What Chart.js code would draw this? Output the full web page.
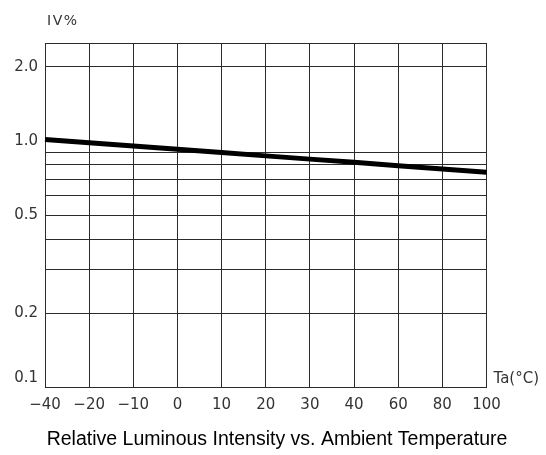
<!DOCTYPE html>
<html>
<head>
<meta charset="utf-8">
<script src="https://cdn.jsdelivr.net/npm/chart.js@4.4.0/dist/chart.umd.min.js"></script>
<style>
  html, body { margin: 0; padding: 0; background: #fff; }
  #wrap { width: 546px; height: 455px; }
</style>
</head>
<body>
<div id="wrap"><canvas id="c" width="546" height="455"></canvas></div>
<script>
// Ambient temperature categories (°C), evenly spaced on the original sheet
const temps = ['\u221240', '\u221220', '\u221210', '0', '10', '20', '30', '40', '60', '80', '100'];
// relative luminous intensity
const intensity = [1.015, 0.985, 0.955, 0.926, 0.898, 0.871, 0.845, 0.820, 0.795, 0.771, 0.748];
// log axis: where grid lines go and which of them get a label
const yGridValues = [0.1, 0.2, 0.3, 0.4, 0.5, 0.6, 0.7, 0.8, 0.9, 1.0, 2.0, 2.5];
const yLabelValues = [0.1, 0.2, 0.5, 1.0, 2.0];
const yMin = 0.1;
const yMax = 2.5;

const lineColor = '#2b2b2b';
const textColor = '#333';
const tickFont = { family: '"DejaVu Sans", sans-serif', size: 15 };

// axis captions that sit outside the plot
const extraText = {
    id: 'extraText',
    afterDraw(chart) {
        const { ctx, chartArea } = chart;
        ctx.save();
        ctx.fillStyle = textColor;
        ctx.textBaseline = 'middle';
        ctx.textAlign = 'left';
        ctx.font = '14px "DejaVu Sans", sans-serif';
        ctx.letterSpacing = '1.5px';
        ctx.fillText('IV%', chartArea.left + 2, 21);
        ctx.letterSpacing = '0px';
        ctx.font = '15px "DejaVu Sans", sans-serif';
        ctx.fillText('Ta(\u00B0C)', chartArea.right + 7, chartArea.bottom - 8);
        ctx.restore();
    }
};

const ctx = document.getElementById('c').getContext('2d');
new Chart(ctx, {
    type: 'line',
    data: {
        labels: temps,
        datasets: [{
            data: intensity,
            borderColor: '#000',
            borderWidth: 5,
            borderCapStyle: 'butt',
            pointRadius: 0,
            tension: 0,
            fill: false,
        }],
    },
    options: {
        responsive: false,
        animation: false,
        layout: { padding: { top: 43, left: 8, right: 0, bottom: 4 } },
        plugins: {
            legend: { display: false },
            tooltip: { enabled: false },
            title: {
                display: true,
                position: 'bottom',
                text: 'Relative Luminous Intensity vs. Ambient Temperature',
                color: '#000',
                font: { family: '"Liberation Sans", Arial, sans-serif', size: 19.5, weight: 'normal' },
                padding: 0,
            },
        },
        scales: {
            x: {
                type: 'category',
                offset: false,
                grid: { color: lineColor, drawTicks: false },
                border: { color: lineColor },
                ticks: { color: textColor, font: tickFont, padding: 9, maxRotation: 0, autoSkip: false },
                afterFit: s => { s.height = 40; },
            },
            y: {
                type: 'logarithmic',
                min: yMin,
                max: yMax,
                grid: {
                    drawTicks: false,
                    color: c => (c.tick && c.tick.value === 1.0) ? 'rgba(0,0,0,0)' : lineColor,
                },
                border: { color: lineColor },
                afterBuildTicks: s => { s.ticks = yGridValues.map(v => ({ value: v })); },
                ticks: {
                    color: textColor,
                    font: tickFont,
                    padding: 7,
                    autoSkip: false,
                    // the bottom label sits a little above its line on the sheet
                    callback: v => {
                        if (!yLabelValues.includes(v)) return '';
                        return v === yMin ? [v.toFixed(1), ''] : v.toFixed(1);
                    },
                },
                afterFit: s => { s.width = 37; },
            },
            y2: {
                type: 'linear',
                position: 'right',
                grid: { display: false },
                border: { display: false },
                ticks: { display: false },
                afterFit: s => { s.width = 59.5; },
            },
        },
    },
    plugins: [extraText],
});
</script>
</body>
</html>
